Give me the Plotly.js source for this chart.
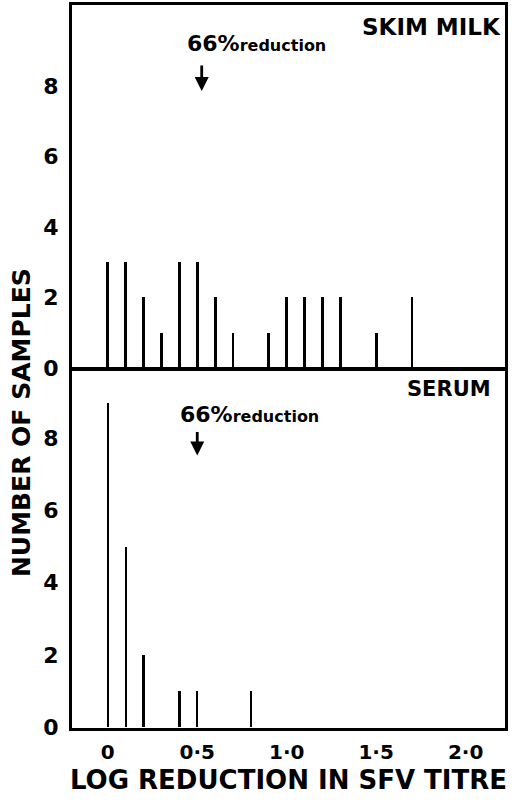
<!DOCTYPE html>
<html>
<head>
<meta charset="utf-8">
<script src="https://cdn.plot.ly/plotly-3.0.1.min.js"></script>
<style>html,body{margin:0;padding:0;background:#fff;}#chart{width:519px;height:803px;}</style>
</head>
<body>
<div id="chart"></div>
<script>
// Skim milk panel
var skimX = [0, 0.1, 0.2, 0.3, 0.4, 0.5, 0.6, 0.7, 0.9, 1.0, 1.1, 1.2, 1.3, 1.5, 1.7];
var skimN = [3, 3, 2, 1, 3, 3, 2, 1, 1, 2, 2, 2, 2, 1, 2];
// Serum panel
var serumX = [0, 0.1, 0.2, 0.4, 0.5, 0.8];
var serumN = [9, 5, 2, 1, 1, 1];
// Ticks
var xTickVals = [0, 0.5, 1.0, 1.5, 2.0];
var xTickText = ['0', '0·5', '1·0', '1·5', '2·0'];
var yTickVals = [0, 2, 4, 6, 8];
var yTickText = ['0', '2', '4', '6', '8'];
// 66% reduction marker positions (log reduction)
var markTop = 0.525;
var markBottom = 0.5;

var F = 'DejaVu Sans';
var ink = '#000';

var traces = [
  {type: 'bar', x: skimX, y: skimN, xaxis: 'x2', yaxis: 'y2', width: 0.016,
   marker: {color: ink, line: {width: 0}}, hoverinfo: 'skip'},
  {type: 'bar', x: serumX, y: serumN, xaxis: 'x', yaxis: 'y', width: 0.013,
   marker: {color: ink, line: {width: 0}}, hoverinfo: 'skip'}
];

var yCommon = {
  showline: true, mirror: true, linewidth: 3, linecolor: ink,
  showgrid: false, zeroline: false, ticks: '',
  tickvals: yTickVals, ticktext: yTickText, ticklabelstandoff: 6,
  tickfont: {family: F, size: 22, weight: 'bold', color: ink}
};
var xCommon = {
  range: [-0.2, 2.22], showline: true, mirror: true, linewidth: 3, linecolor: ink,
  showgrid: false, zeroline: false, ticks: ''
};

var layout = {
  width: 519, height: 803,
  margin: {l: 72, r: 14, t: 5, b: 75},
  paper_bgcolor: '#fff', plot_bgcolor: '#fff',
  showlegend: false, bargap: 0,
  xaxis: Object.assign({}, xCommon, {anchor: 'y',
    tickvals: xTickVals, ticktext: xTickText, ticklabelstandoff: 4,
    tickfont: {family: F, size: 20, weight: 'bold', color: ink},
    title: {text: 'LOG REDUCTION IN SFV TITRE', standoff: 8,
      font: {family: F, size: 26, weight: 'bold', color: ink}}}),
  xaxis2: Object.assign({}, xCommon, {anchor: 'y2', showticklabels: false, matches: 'x'}),
  yaxis: Object.assign({}, yCommon, {domain: [0, 0.495], range: [-0.03, 9.9], anchor: 'x'}),
  yaxis2: Object.assign({}, yCommon, {domain: [0.498, 1], range: [0, 10.3], anchor: 'x2'}),
  annotations: [
    {xref: 'paper', yref: 'paper', x: -0.118, y: 0.423, xanchor: 'center', yanchor: 'middle', textangle: -90, showarrow: false,
     text: 'NUMBER OF SAMPLES', font: {family: F, size: 25, weight: 'bold', color: ink}},
    {xref: 'paper', yref: 'paper', x: 0.995, y: 0.9696, xanchor: 'right', yanchor: 'middle', showarrow: false,
     text: 'SKIM MILK', font: {family: F, size: 23, weight: 'bold', color: ink}},
    {xref: 'paper', yref: 'paper', x: 0.972, y: 0.469, xanchor: 'right', yanchor: 'middle', showarrow: false,
     text: 'SERUM', font: {family: F, size: 21, weight: 'bold', color: ink}},
    {xref: 'paper', yref: 'paper', x: 0.262, y: 0.927, xanchor: 'left', yanchor: 'bottom', showarrow: false,
     text: '66%<span style="font-size:16px">reduction</span>', font: {family: F, size: 22, weight: 'bold', color: ink}},
    {xref: 'paper', yref: 'paper', x: 0.245, y: 0.413, xanchor: 'left', yanchor: 'bottom', showarrow: false,
     text: '66%<span style="font-size:16px">reduction</span>', font: {family: F, size: 22, weight: 'bold', color: ink}},
    {xref: 'x2', yref: 'y2', x: markTop, y: 7.86, ax: 0, ay: -27, text: '', showarrow: true,
     arrowhead: 2, arrowsize: 1, arrowwidth: 2.8, arrowcolor: ink},
    {xref: 'x', yref: 'y', x: markBottom, y: 7.53, ax: 0, ay: -25, text: '', showarrow: true,
     arrowhead: 2, arrowsize: 1, arrowwidth: 2.8, arrowcolor: ink}
  ]
};

Plotly.newPlot('chart', traces, layout, {displayModeBar: false, staticPlot: true});
</script>
</body>
</html>
